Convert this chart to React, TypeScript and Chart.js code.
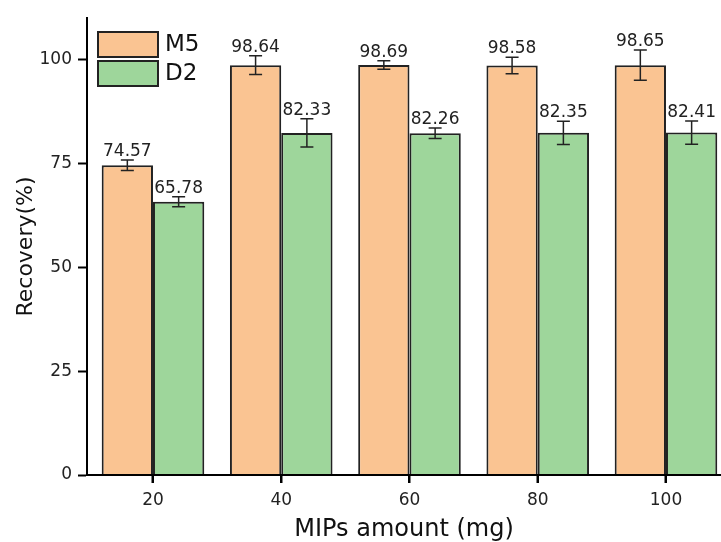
import React, { useEffect, useRef } from "react";
import { Chart, registerables } from "chart.js";

Chart.register(...registerables);

const amounts = [20, 40, 60, 80, 100];
const m5Values = [74.57, 98.64, 98.69, 98.58, 98.65];
const d2Values = [65.78, 82.33, 82.26, 82.35, 82.41];
const m5Errors = [1.25, 2.25, 1.0, 2.0, 3.65];
const d2Errors = [1.2, 3.4, 1.25, 2.8, 2.8];
const yTicks = [0, 25, 50, 75, 100];
const seriesNames = ["M5", "D2"];

const ORANGE = "rgb(250,196,146)";
const GREEN = "rgb(158,214,155)";
const FONT = "'DejaVu Sans', sans-serif";

const errorBarPlugin = {
  id: "errorBars",
  afterDatasetsDraw(chart: any) {
    const { ctx } = chart;
    const yScale = chart.scales.y;
    chart.data.datasets.forEach((ds: any, di: number) => {
      const meta = chart.getDatasetMeta(di);
      const errs: number[] = ds.errors;
      meta.data.forEach((el: any, i: number) => {
        const v = ds.data[i].y;
        const e = errs[i];
        const yTop = yScale.getPixelForValue(v + e);
        const yBot = yScale.getPixelForValue(v - e);
        const x = el.x;
        ctx.save();
        ctx.strokeStyle = "#222";
        ctx.lineWidth = 1.5;
        ctx.beginPath();
        ctx.moveTo(x, yTop);
        ctx.lineTo(x, yBot);
        ctx.moveTo(x - 6.5, yTop);
        ctx.lineTo(x + 6.5, yTop);
        ctx.moveTo(x - 6.5, yBot);
        ctx.lineTo(x + 6.5, yBot);
        ctx.stroke();
        ctx.fillStyle = "#222";
        ctx.font = `17px ${FONT}`;
        ctx.textAlign = "center";
        ctx.textBaseline = "alphabetic";
        ctx.fillText(v.toFixed(2), x, yTop - 4);
        ctx.restore();
      });
    });
  },
};

const xTickMarkPlugin = {
  id: "xTickMarks",
  afterDraw(chart: any) {
    const { ctx } = chart;
    const xs = chart.scales.x;
    const base = xs.top;
    ctx.save();
    ctx.strokeStyle = "#000";
    ctx.lineWidth = 2;
    ctx.beginPath();
    xs.ticks.forEach((t: any) => {
      const px = Math.round(xs.getPixelForValue(t.value));
      ctx.moveTo(px, base);
      ctx.lineTo(px, base + 8);
    });
    ctx.stroke();
    ctx.restore();
  },
};

const legendPlugin = {
  id: "innerLegend",
  afterDraw(chart: any) {
    const { ctx, chartArea } = chart;
    const x0 = chartArea.left + 11;
    const y0 = chartArea.top + 14;
    const boxW = 60;
    const boxH = 25;
    const gap = 4;
    chart.data.datasets.forEach((ds: any, i: number) => {
      const y = y0 + i * (boxH + gap);
      ctx.save();
      ctx.fillStyle = ds.backgroundColor;
      ctx.fillRect(x0, y, boxW, boxH);
      ctx.strokeStyle = "#222";
      ctx.lineWidth = 2;
      ctx.strokeRect(x0, y, boxW, boxH);
      ctx.fillStyle = "#111";
      ctx.font = `23px ${FONT}`;
      ctx.textAlign = "left";
      ctx.textBaseline = "middle";
      ctx.fillText(ds.label, x0 + boxW + 7, y + boxH / 2 + 1);
      ctx.restore();
    });
  },
};

export default function App() {
  const canvasRef = useRef<HTMLCanvasElement | null>(null);

  useEffect(() => {
    document.body.style.margin = "0";
    document.body.style.overflow = "hidden";
    const canvas = canvasRef.current;
    if (!canvas) return;
    const chart = new Chart(canvas, {
      type: "bar",
      data: {
        datasets: [
          {
            label: seriesNames[0],
            data: amounts.map((a, i) => ({ x: a, y: m5Values[i] })),
            backgroundColor: ORANGE,
            borderColor: "#222",
            borderWidth: 2,
            errors: m5Errors,
          } as any,
          {
            label: seriesNames[1],
            data: amounts.map((a, i) => ({ x: a, y: d2Values[i] })),
            backgroundColor: GREEN,
            borderColor: "#222",
            borderWidth: 2,
            errors: d2Errors,
          } as any,
        ],
      },
      options: {
        animation: false,
        responsive: false,
        maintainAspectRatio: false,
        devicePixelRatio: 1,
        layout: { padding: { top: 18, right: 0, left: 0, bottom: 0 } },
        datasets: {
          bar: { categoryPercentage: 0.8, barPercentage: 1.0 },
        },
        plugins: {
          legend: { display: false },
          tooltip: { enabled: false },
        },
        scales: {
          x: {
            type: "linear",
            min: 9.71,
            max: 108.58,
            offset: false,
            afterBuildTicks: (s: any) => {
              s.ticks = amounts.map((v) => ({ value: v }));
            },
            afterFit: (s: any) => {
              s.height = 67;
            },
            grid: {
              offset: false,
              drawOnChartArea: false,
              drawTicks: true,
              tickLength: 8,
              tickColor: "#000",
              tickWidth: 2,
            },
            border: { display: true, color: "#000", width: 2, z: 1 },
            ticks: {
              color: "#222",
              font: { family: FONT, size: 17 },
              padding: 7,
              maxRotation: 0,
            },
            title: {
              display: true,
              text: "MIPs amount (mg)",
              color: "#111",
              font: { family: FONT, size: 24, lineHeight: 1 },
              padding: { top: 0, bottom: 0 },
            },
          },
          y: {
            min: 0,
            max: 110,
            afterBuildTicks: (s: any) => {
              s.ticks = yTicks.map((v) => ({ value: v }));
            },
            afterFit: (s: any) => {
              s.width = 87;
            },
            grid: {
              drawOnChartArea: false,
              drawTicks: true,
              tickLength: 9,
              tickColor: "#000",
              tickWidth: 2,
            },
            border: { display: true, color: "#000", width: 2, z: 1 },
            ticks: {
              color: "#222",
              font: { family: FONT, size: 17 },
              padding: 6,
            },
            title: {
              display: true,
              text: "Recovery(%)",
              color: "#111",
              font: { family: FONT, size: 22 },
              padding: { top: 13, bottom: 0 },
            },
          },
        },
      } as any,
      plugins: [errorBarPlugin, xTickMarkPlugin, legendPlugin],
    });
    return () => chart.destroy();
  }, []);

  return (
    <div style={{ width: 721, height: 542, overflow: "hidden" }}>
      <canvas ref={canvasRef} width={721} height={542} style={{ display: "block" }} />
    </div>
  );
}
